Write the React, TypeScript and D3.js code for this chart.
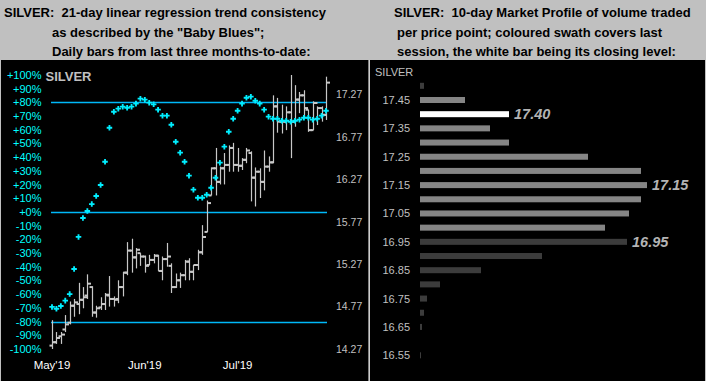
import React from "react";
import * as d3 from "d3";

// ---------- Data ----------
const barHigh = [14.61,14.47,14.47,14.67,14.83,14.86,15.05,15.00,15.15,15.01,14.78,14.88,14.93,15.13,14.89,15.08,15.18,15.53,15.57,15.46,15.40,15.37,15.38,15.39,15.38,15.36,15.52,15.28,15.16,15.17,15.32,15.34,15.26,15.44,15.73,16.02,16.41,16.64,16.42,16.58,16.67,16.70,16.64,16.52,16.64,16.60,16.41,16.40,16.61,16.54,17.26,17.23,17.15,17.13,17.50,17.38,17.30,17.32,17.09,17.19,17.13,17.13,17.48];
const barLow = [14.27,14.33,14.33,14.47,14.56,14.65,14.68,14.75,14.86,14.65,14.64,14.73,14.73,14.77,14.77,14.81,14.89,15.14,15.17,15.22,15.25,15.17,15.26,15.28,15.19,15.08,15.24,14.93,14.99,14.99,15.08,15.08,15.08,15.20,15.38,15.65,16.08,16.08,16.21,16.21,16.36,16.36,16.36,16.38,16.46,16.01,15.95,16.05,16.14,16.36,16.46,16.82,16.81,16.85,16.52,16.89,17.05,16.99,16.83,16.85,16.91,16.95,16.97];
const barOpen = [14.31,14.35,14.42,14.50,14.58,14.78,14.80,14.85,14.90,15.00,14.70,14.76,14.80,14.90,14.86,14.86,15.00,15.17,15.43,15.35,15.40,15.36,15.26,15.32,15.37,15.19,15.33,15.25,15.00,15.08,15.14,15.30,15.18,15.26,15.41,15.65,16.08,16.40,16.24,16.40,16.44,16.64,16.44,16.43,16.50,16.58,16.29,16.36,16.24,16.42,16.47,17.13,16.95,16.95,17.06,16.95,17.21,17.26,17.09,16.85,17.17,17.11,17.03];
const barClose = [14.35,14.40,14.44,14.56,14.78,14.82,14.85,14.88,15.04,14.70,14.75,14.80,14.91,14.86,14.85,15.00,15.17,15.43,15.35,15.44,15.36,15.25,15.32,15.37,15.19,15.33,15.36,15.00,15.08,15.14,15.30,15.18,15.26,15.41,15.59,15.99,16.40,16.24,16.40,16.44,16.64,16.44,16.43,16.50,16.61,16.29,16.36,16.24,16.42,16.47,17.13,16.95,16.95,17.06,16.95,17.21,17.26,17.11,16.85,17.17,17.11,17.03,17.41];
const babyBlues = [-69.3,-70.6,-68.6,-64.7,-59.9,-41.6,-18.2,-4.4,0.7,5.8,11.7,19.7,36.7,61.5,73.2,75.4,76.9,76.1,76.9,79.1,82.7,82.0,79.8,78.6,74.7,70.3,70.3,63.7,51.3,43.3,36.7,26.5,16.3,10.4,10.4,12.6,17.7,25.0,36.0,47.7,58.6,68.1,73.9,79.1,83.4,84.2,81.2,79.1,74.7,69.6,68.1,68.1,66.6,66.6,65.9,66.6,67.4,68.8,68.8,67.4,68.1,70.3,73.9];
const pctTicks = [100,90,80,70,60,50,40,30,20,10,0,-10,-20,-30,-40,-50,-60,-70,-80,-90,-100];
const refLines = [80,0,-80];
const priceTicks = [17.27,16.77,16.27,15.77,15.27,14.77,14.27];
const monthLabels = ["May'19","Jun'19","Jul'19"];
const monthIndex = [0,21,42];

const profilePrices = [17.50,17.45,17.40,17.35,17.30,17.25,17.20,17.15,17.10,17.05,17.00,16.95,16.90,16.85,16.80,16.75,16.70,16.65,16.60,16.55];
const profileVolume = [4,45,89,70,89,168,221,227,221,209,185,207,122,61,20,7,4,2,0,1];
const profileKind = ["out","in","close","in","in","in","in","in","in","in","in","out","out","out","out","out","out","out","out","out"];
const profileTickLabels = [17.45,17.35,17.25,17.15,17.05,16.95,16.85,16.75,16.65,16.55];
const profileCallouts = [17.40,17.15,16.95];

const FONT = "'Liberation Sans', Arial, sans-serif";

export default function App() {
  const x = d3.scaleLinear().domain([0, barHigh.length - 1]).range([52, 326]);
  const yPct = d3.scaleLinear().domain([-100, 100]).range([349, 75]);
  const yPrice = d3.scaleLinear().domain([14.27, 17.27]).range([349, 94.5]);

  const yProf = d3.scaleLinear().domain([17.45, 16.55]).range([100, 355.3]);
  const xProf = d3.scaleLinear().domain([0, 227]).range([420, 647]);

  const cross = d3.symbol().type(d3.symbolCross).size(17)();

  const pctLabel = (v: number) => (v >= 0 ? "+" : "") + v + "%";
  const profColor = (k: string) => (k === "close" ? "#ffffff" : k === "in" ? "#858585" : "#3c3c3c");

  return (
    <svg width={706} height={381} style={{ position: "absolute", left: 0, top: 0, display: "block" }} fontFamily={FONT}>
      <rect x={0} y={0} width={706} height={381} fill="#c0c0c0" />
      <rect x={1} y={60} width={704} height={321} fill="#000000" />
      <rect x={368.5} y={60} width={1.3} height={321} fill="#ffffff" />

      {/* headers */}
      <g fontWeight="bold" fontSize={13} fill="#000" style={{ whiteSpace: "pre" }}>
        <text x={4} y={17} xmlSpace="preserve">SILVER:  21-day linear regression trend consistency</text>
        <text x={52} y={36.5}>as described by the "Baby Blues";</text>
        <text x={52} y={56}>Daily bars from last three months-to-date:</text>
        <text x={394} y={17} xmlSpace="preserve">SILVER:  10-day Market Profile of volume traded</text>
        <text x={397} y={36.5}>per price point; coloured swath covers last</text>
        <text x={397} y={56}>session, the white bar being its closing level:</text>
      </g>

      {/* left chart */}
      <text x={45.5} y={80.5} fontSize={13} fontWeight="bold" fill="#c0c0c0">SILVER</text>
      <g fontSize={11} fill="#00ffff" textAnchor="end">
        {pctTicks.map((t) => (
          <text key={t} x={41.5} y={yPct(t)} dy="0.36em">{pctLabel(t)}</text>
        ))}
      </g>
      <g fontSize={10.5} fill="#c0c0c0">
        {priceTicks.map((t) => (
          <text key={t} x={336} y={yPrice(t)} dy="0.36em">{t.toFixed(2)}</text>
        ))}
      </g>
      <g fontSize={11.5} fill="#ffffff" textAnchor="middle">
        {monthLabels.map((m, i) => (
          <text key={m} x={x(monthIndex[i])} y={365} dy="0.36em">{m}</text>
        ))}
      </g>
      {refLines.map((v) => (
        <line key={v} x1={51} x2={327} y1={Math.round(yPct(v)) + 0.5} y2={Math.round(yPct(v)) + 0.5} stroke="#00b8f8" strokeWidth={1.3} />
      ))}
      <g stroke="#c8c8c8" strokeWidth={1.2} fill="none">
        {barHigh.map((h, i) => {
          const cx = Math.round(x(i)) + 0.5;
          return (
            <g key={i}>
              <line x1={cx} x2={cx} y1={yPrice(h)} y2={yPrice(barLow[i])} />
              <line x1={cx - 3} x2={cx} y1={yPrice(barOpen[i])} y2={yPrice(barOpen[i])} strokeWidth={2} />
              <line x1={cx} x2={cx + 3.5} y1={yPrice(barClose[i])} y2={yPrice(barClose[i])} strokeWidth={2} />
            </g>
          );
        })}
      </g>
      <g fill="#00eeff">
        {babyBlues.map((v, i) => (
          <path key={i} d={cross || ""} transform={`translate(${x(i)},${yPct(v)})`} />
        ))}
      </g>

      {/* right chart: market profile */}
      <text x={375} y={72} dy="0.36em" fontSize={11} fill="#c0c0c0">SILVER</text>
      <g fontSize={11} fill="#c0c0c0" textAnchor="end">
        {profileTickLabels.map((t) => (
          <text key={t} x={410} y={yProf(t)} dy="0.36em">{t.toFixed(2)}</text>
        ))}
      </g>
      {profilePrices.map((p, i) =>
        profileVolume[i] > 0 ? (
          <rect key={p} x={xProf(0)} y={yProf(p) - 3} width={xProf(profileVolume[i]) - xProf(0)} height={6} fill={profColor(profileKind[i])} />
        ) : null
      )}
      <g fontSize={14.5} fontWeight="bold" fontStyle="italic" fill="#b4b4b4">
        {profileCallouts.map((p) => {
          const idx = profilePrices.findIndex((q) => Math.abs(q - p) < 1e-6);
          return (
            <text key={p} x={xProf(profileVolume[idx]) + 5} y={yProf(p)} dy="0.36em">{p.toFixed(2)}</text>
          );
        })}
      </g>
    </svg>
  );
}
